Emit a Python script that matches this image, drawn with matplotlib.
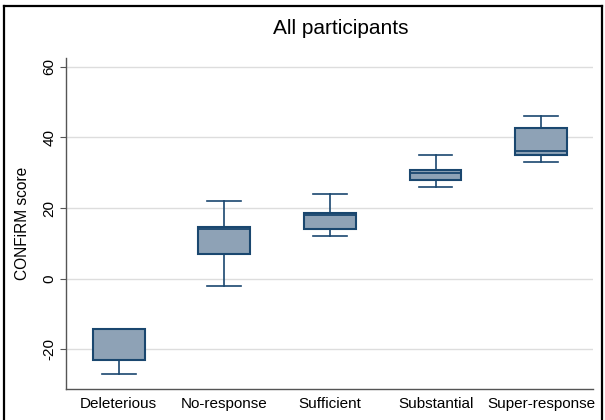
import matplotlib
matplotlib.use("Agg")
import matplotlib.pyplot as plt
from matplotlib.lines import Line2D

plt.rcParams['font.family'] = ['Liberation Sans', 'DejaVu Sans']

# Box summaries per response group
groups = ['Deleterious', 'No-response', 'Sufficient', 'Substantial', 'Super-response']
whisker_lo = [-27, -2, 12, 26, 33]
q1 = [-23, 7, 14, 28, 35]
median = [-23, 14, 18, 30, 36.2]
q3 = [-14.3, 14.7, 18.7, 30.7, 42.7]
whisker_hi = [-14.3, 22, 24, 35, 46]
yticks = [-20, 0, 20, 40, 60]

NAVY = '#1a476f'
FILL = '#8ea2b6'

stats = []
for i, g in enumerate(groups):
    stats.append({'label': g, 'whislo': whisker_lo[i], 'q1': q1[i], 'med': median[i],
                  'q3': q3[i], 'whishi': whisker_hi[i], 'fliers': []})

fig = plt.figure(figsize=(6.05, 4.2), dpi=100)
ax = fig.add_axes([0.109, 0.074, 0.871, 0.788])

ax.bxp(stats, positions=range(len(groups)), widths=0.49, capwidths=0.32,
       patch_artist=True, showfliers=False,
       boxprops=dict(facecolor=FILL, edgecolor=NAVY, linewidth=1.5),
       medianprops=dict(color=NAVY, linewidth=1.3),
       whiskerprops=dict(color=NAVY, linewidth=1.2),
       capprops=dict(color=NAVY, linewidth=1.2))

ax.set_xlim(-0.5, 4.49)
ax.set_ylim(-31.2, 62.5)
ax.set_yticks(yticks)
ax.set_yticklabels([str(t) for t in yticks], rotation=90, va='center', fontsize=11)
ax.tick_params(axis='y', length=4, width=0.8, color='#555555', pad=3)
ax.tick_params(axis='x', length=0, labelsize=11, pad=6)

ax.grid(axis='y', color='#dddddd', linewidth=1.0)
ax.set_axisbelow(True)
for s in ['top', 'right']:
    ax.spines[s].set_visible(False)
for s in ['left', 'bottom']:
    ax.spines[s].set_color('#555555')
    ax.spines[s].set_linewidth(1.0)

ax.set_ylabel('CONFiRM score', fontsize=11.2, labelpad=9)
fig.text(0.564, 0.933, 'All participants', ha='center', va='center', fontsize=15)

# outer frame on left, top and right
fr = dict(color='black', linewidth=1.6, transform=fig.transFigure)
fig.add_artist(Line2D([0.007, 0.007], [0.0, 0.986], **fr))
fig.add_artist(Line2D([0.007, 0.995], [0.986, 0.986], **fr))
fig.add_artist(Line2D([0.995, 0.995], [0.0, 0.986], **fr))

fig.savefig('out.png', dpi=100)
